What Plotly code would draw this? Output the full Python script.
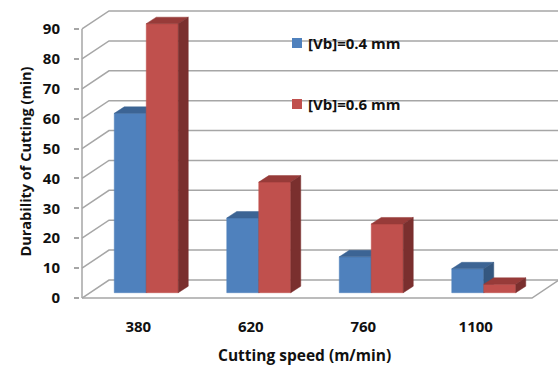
import plotly.graph_objects as go

# Data
speeds = ["380", "620", "760", "1100"]
vb_04 = [60, 25, 12, 8]
vb_06 = [90, 37, 23, 2.8]
series_names = ["[Vb]=0.4 mm", "[Vb]=0.6 mm"]
y_ticks = [0, 10, 20, 30, 40, 50, 60, 70, 80, 90]

# Geometry of the pseudo-3D box (in axis units)
PX_X = 112.5           # pixels per category
PX_Y = 2.989           # pixels per value unit
WALL_DX, WALL_DY = 27 / PX_X, 18 / PX_Y      # depth of the walls
BAR_DX, BAR_DY = 8 / PX_X, 5.3 / PX_Y        # front face of bars sits behind front plane
DEP_DX, DEP_DY = 10 / PX_X, 6.5 / PX_Y       # bar depth
BAR_W = 32 / PX_X
X_LEFT = -0.5 - 2 / PX_X
X_RIGHT = X_LEFT + 478 / PX_X

GRID = "#A6A6A6"
COLORS = {
    0: dict(front="#4F81BD", top="#3C6494", side="#34577F"),
    1: dict(front="#C0504D", top="#973B39", side="#7A2F2E"),
}

fig = go.Figure()


def line(xs, ys, color=GRID, width=1.5):
    fig.add_trace(go.Scatter(x=xs, y=ys, mode="lines",
                             line=dict(color=color, width=width),
                             hoverinfo="skip", showlegend=False))


def poly(xs, ys, color):
    fig.add_trace(go.Scatter(x=xs + [xs[0]], y=ys + [ys[0]], mode="lines",
                             fill="toself", fillcolor=color,
                             line=dict(color=color, width=0.5),
                             hoverinfo="skip", showlegend=False))


# Back wall gridlines and left wall diagonals
for v in y_ticks:
    line([-0.5, -0.5 + WALL_DX, X_RIGHT + 0.05], [v, v + WALL_DY, v + WALL_DY])

# Floor edges and front vertical axis line
line([-0.5, len(speeds) - 0.5, len(speeds) - 0.5 + WALL_DX], [0, 0, WALL_DY])
line([-0.5, -0.5], [0, y_ticks[-1]])

# Bars: front, top and side faces
for i in range(len(speeds)):
    for s, vals in enumerate([vb_04, vb_06]):
        v = vals[i]
        x0 = i + BAR_DX - BAR_W + s * BAR_W
        x1 = x0 + BAR_W
        y0 = BAR_DY
        y1 = BAR_DY + v
        c = COLORS[s]
        poly([x0, x1, x1, x0], [y0, y0, y1, y1], c["front"])
        poly([x0, x1, x1 + DEP_DX, x0 + DEP_DX], [y1, y1, y1 + DEP_DY, y1 + DEP_DY], c["top"])
        poly([x1, x1 + DEP_DX, x1 + DEP_DX, x1], [y0, y0 + DEP_DY, y1 + DEP_DY, y1], c["side"])

FONT = "Open Sans"
fig.update_layout(
    width=558, height=365,
    margin=dict(l=80, r=0, t=0, b=64),
    paper_bgcolor="white", plot_bgcolor="white",
    showlegend=False,
    font=dict(family=FONT, color="#111111"),
    xaxis=dict(range=[X_LEFT, X_RIGHT], showgrid=False, zeroline=False, showline=False,
               tickvals=list(range(len(speeds))), ticktext=speeds, ticks="",
               ticklabelstandoff=15,
               tickfont=dict(size=15, family=FONT, weight="bold")),
    yaxis=dict(range=[-1, 298 / PX_Y], showgrid=False, zeroline=False, showline=False,
               tickvals=y_ticks, ticks="outside", ticklen=5, tickcolor=GRID, tickwidth=1.5,
               ticklabelstandoff=11,
               tickfont=dict(size=15, family=FONT, weight="bold")),
)

# Axis titles
fig.add_annotation(text="<b>Cutting speed (m/min)</b>", xref="paper", yref="paper",
                   x=(304.5 - 80) / 478, y=(301 - 355) / 301, showarrow=False,
                   xanchor="center", yanchor="middle",
                   font=dict(size=15.5, family=FONT))
fig.add_annotation(text="<b>Durability of Cutting (min)</b>", xref="paper", yref="paper",
                   x=(24.5 - 80) / 478, y=(301 - 162) / 301, showarrow=False, textangle=-90,
                   xanchor="center", yanchor="middle",
                   font=dict(size=14.5, family=FONT))

# Legend
for s, (name, ypx) in enumerate(zip(series_names, [43, 104])):
    cx = (297 - 80) / 478
    cy = (301 - ypx) / 301
    fig.add_shape(type="rect", xref="paper", yref="paper",
                  x0=cx - 5 / 478, x1=cx + 5 / 478, y0=cy - 5 / 301, y1=cy + 5 / 301,
                  fillcolor=COLORS[s]["front"], line=dict(width=0))
    fig.add_annotation(text="<b>" + name + "</b>", xref="paper", yref="paper",
                       x=(306 - 80) / 478, y=cy, xanchor="left", yanchor="middle",
                       showarrow=False, font=dict(size=15, family=FONT))

fig.write_html("out.html")
